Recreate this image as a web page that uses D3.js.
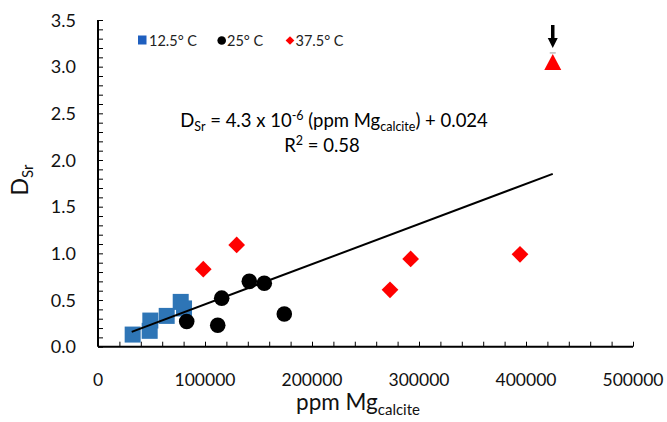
<!DOCTYPE html>
<html><head><meta charset="utf-8">
<script src="https://cdn.jsdelivr.net/npm/d3@7"></script>
<style>body{margin:0;background:#fff}svg{display:block}text{font-family:Lato,"Open Sans",sans-serif}</style>
</head><body>
<svg id="c" width="667" height="422"></svg>
<script>
// ---- data ----
const blueX = [32400, 48300, 48900, 64200, 77300, 80400];
const blueY = [0.13, 0.17, 0.28, 0.33, 0.48, 0.41];
const blackX = [82900, 111900, 115600, 141400, 155400, 174100];
const blackY = [0.27, 0.23, 0.52, 0.70, 0.68, 0.35];
const redX = [98400, 129600, 272900, 292200, 394400];
const redY = [0.83, 1.09, 0.61, 0.94, 0.99];
const triX = [425000];
const triY = [3.04];
const seriesNames = ["12.5° C", "25° C", "37.5° C"];
const xTickLabels = [0, 100000, 200000, 300000, 400000, 500000];
const yTickLabels = [0, 0.5, 1.0, 1.5, 2.0, 2.5, 3.0, 3.5];
const fitSlope = 4.3e-6, fitIntercept = 0.024, fitRange = [31500, 425000];

const svg = d3.select("#c");
const x = d3.scaleLinear().domain([0, 500000]).range([98, 633]);
const y = d3.scaleLinear().domain([0, 3.5]).range([346.7, 20]);

// axes
const xAxis = d3.axisBottom(x).tickValues(d3.range(0, 500001, 20000)).tickSize(-5).tickFormat("");
const yAxis = d3.axisLeft(y).tickValues(d3.range(0, 36).map(i => i / 10)).tickSize(-5).tickFormat("");
const gx = svg.append("g").attr("transform", `translate(0,${y(0)})`).call(xAxis);
const gy = svg.append("g").attr("transform", `translate(${x(0)},0)`).call(yAxis);
[gx, gy].forEach(g => {
  g.select(".domain").attr("stroke", "#000").attr("stroke-width", 2);
  g.selectAll(".tick line").attr("stroke", "#000").attr("stroke-width", 1);
});
gx.select(".domain").attr("d", `M${x(0)},0H${x(500000)}`);
gy.select(".domain").attr("d", `M0,${y(0)}V${y(3.5)}`);

svg.append("g").selectAll("text").data(xTickLabels).join("text")
  .attr("x", d => x(d)).attr("y", 386).attr("text-anchor", "middle")
  .attr("font-size", 17.5).attr("fill", "#111").text(d => d);
svg.append("g").selectAll("text").data(yTickLabels).join("text")
  .attr("x", 76).attr("y", d => y(d) + 6.5).attr("text-anchor", "end")
  .attr("font-size", 18).attr("fill", "#111").text(d => d.toFixed(1));

// axis titles
const xt = svg.append("text").attr("x", 358).attr("y", 410).attr("text-anchor", "middle")
  .attr("font-size", 22.5).attr("fill", "#111");
xt.append("tspan").text("ppm Mg");
xt.append("tspan").attr("font-size", 15).attr("dy", 5).text("calcite");
const yt = svg.append("text").attr("transform", "translate(28,180) rotate(-90)").attr("text-anchor", "middle")
  .attr("font-size", 23).attr("fill", "#111");
yt.append("tspan").text("D");
yt.append("tspan").attr("font-size", 15).attr("dy", 5).text("Sr");

// blue squares
const sq = 16;
svg.append("g").selectAll("rect").data(blueX.map((d, i) => [d, blueY[i]])).join("rect")
  .attr("x", d => x(d[0]) - sq / 2).attr("y", d => y(d[1]) - sq / 2)
  .attr("width", sq).attr("height", sq).attr("fill", "#2E75B6");

// fit line
const line = d3.line().x(d => x(d)).y(d => y(fitSlope * d + fitIntercept));
svg.append("path").attr("d", line(fitRange)).attr("stroke", "#000").attr("stroke-width", 2).attr("fill", "none");

// black circles
svg.append("g").selectAll("circle").data(blackX.map((d, i) => [d, blackY[i]])).join("circle")
  .attr("cx", d => x(d[0])).attr("cy", d => y(d[1])).attr("r", 7.8).attr("fill", "#000");

// red diamonds
const diamond = d3.symbol().type(d3.symbolSquare).size(140);
svg.append("g").selectAll("path").data(redX.map((d, i) => [d, redY[i]])).join("path")
  .attr("d", diamond).attr("transform", d => `translate(${x(d[0])},${y(d[1])}) rotate(45)`)
  .attr("fill", "#FF0000");

// triangle
svg.append("g").selectAll("path").data(triX.map((d, i) => [d, triY[i]])).join("path")
  .attr("d", d => { const cx = x(d[0]), cy = y(d[1]); return `M${cx},${cy - 9}L${cx + 8.5},${cy + 7}L${cx - 8.5},${cy + 7}Z`; })
  .attr("fill", "#FF0000");
svg.append("line").attr("x1", x(triX[0]) - 3).attr("x2", x(triX[0]) + 3)
  .attr("y1", y(triY[0]) - 10).attr("y2", y(triY[0]) - 10).attr("stroke", "#999").attr("stroke-width", 1);

// arrow
const ax = x(triX[0]);
svg.append("line").attr("x1", ax).attr("x2", ax).attr("y1", 25).attr("y2", 40).attr("stroke", "#000").attr("stroke-width", 3.5);
svg.append("path").attr("d", `M${ax - 5},38L${ax + 5},38L${ax},48Z`).attr("fill", "#000");

// legend
const lg = svg.append("g");
lg.append("rect").attr("x", 138).attr("y", 35.5).attr("width", 8.5).attr("height", 9).attr("fill", "#1F5FBF");
lg.append("circle").attr("cx", 221.7).attr("cy", 40.5).attr("r", 4.3).attr("fill", "#000");
lg.append("path").attr("d", d3.symbol().type(d3.symbolSquare).size(38)).attr("transform", "translate(290,40.5) rotate(45)").attr("fill", "#FF0000");
const legX = [149, 227, 295.5];
lg.selectAll("text.l").data(seriesNames).join("text").attr("class", "l")
  .attr("x", (d, i) => legX[i]).attr("y", 46).attr("font-size", 14.5).attr("fill", "#222").text(d => d);

// equation
const eq = svg.append("text").attr("x", 334).attr("y", 127).attr("text-anchor", "middle").attr("font-size", 18.5).attr("fill", "#000");
eq.append("tspan").text("D");
eq.append("tspan").attr("font-size", 12.5).attr("dy", 4).text("Sr");
eq.append("tspan").attr("dy", -4).text(" = 4.3 x 10");
eq.append("tspan").attr("font-size", 12.5).attr("dy", -7).text("-6");
eq.append("tspan").attr("dy", 7).text(" (ppm Mg");
eq.append("tspan").attr("font-size", 12.5).attr("dy", 4).text("calcite");
eq.append("tspan").attr("dy", -4).text(") + 0.024");
const r2 = svg.append("text").attr("x", 322).attr("y", 152).attr("text-anchor", "middle").attr("font-size", 18.5).attr("fill", "#000");
r2.append("tspan").text("R");
r2.append("tspan").attr("font-size", 12.5).attr("dy", -7).text("2");
r2.append("tspan").attr("dy", 7).text(" = 0.58");
</script>
</body></html>
